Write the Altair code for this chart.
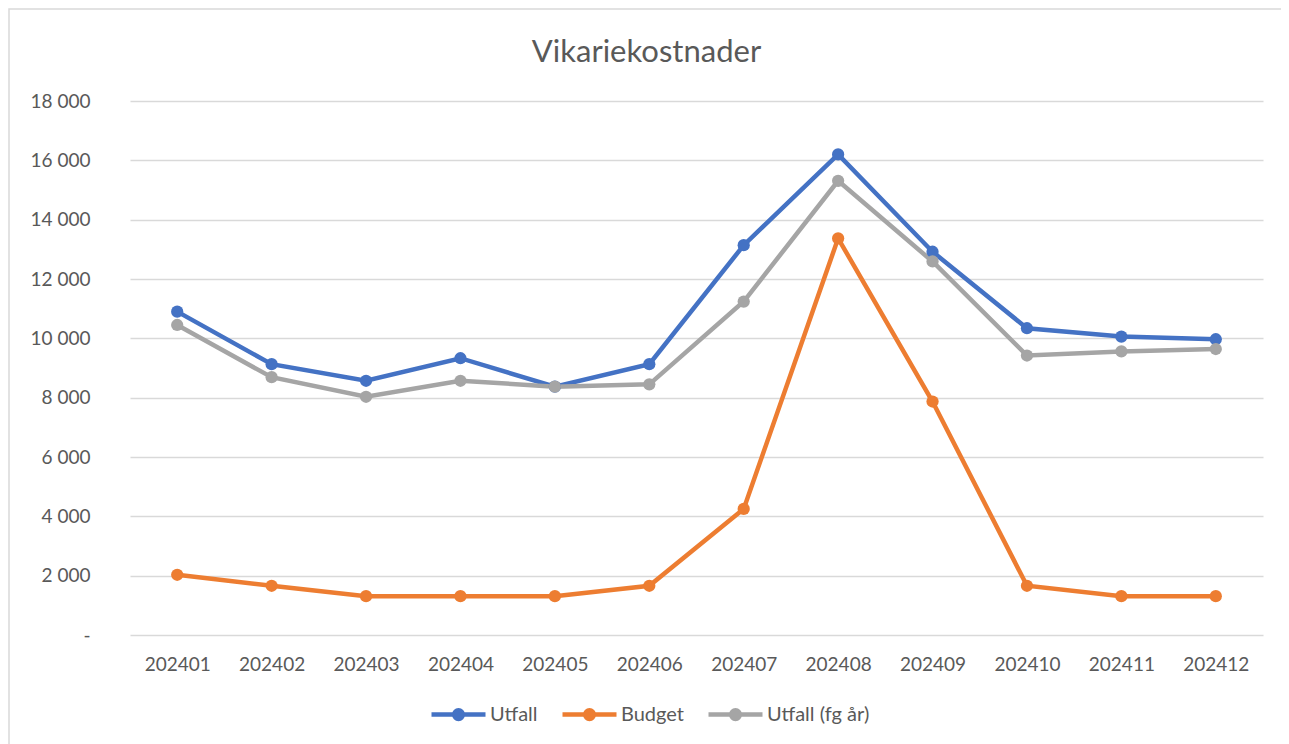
import altair as alt
import pandas as pd

months = ["202401", "202402", "202403", "202404", "202405", "202406",
          "202407", "202408", "202409", "202410", "202411", "202412"]
utfall = [10900, 9130, 8570, 9330, 8370, 9130, 13140, 16200, 12920, 10340, 10060, 9970]
budget = [2030, 1660, 1310, 1310, 1310, 1660, 4250, 13370, 7870, 1660, 1310, 1310]
utfall_fg = [10450, 8690, 8030, 8570, 8370, 8450, 11240, 15310, 12590, 9420, 9560, 9640]

series_names = ["Utfall", "Budget", "Utfall (fg år)"]
series_colors = ["#4472C4", "#ED7D31", "#A5A5A5"]
y_ticks = list(range(0, 18001, 2000))

rows = []
for name, vals in zip(series_names, [utfall, budget, utfall_fg]):
    for i, (m, v) in enumerate(zip(months, vals)):
        rows.append({"Månad": m, "Serie": name, "Värde": v, "order": series_names.index(name)})
df = pd.DataFrame(rows)

FONT = "Lato"
TXT = "#595959"
GRID = "#D9D9D9"

legend_path = ("M-1,0H1"
               "M-0.16,0A0.16,0.16,0,1,0,0.16,0A0.16,0.16,0,1,0,-0.16,0Z"
               "M-0.06,0A0.06,0.06,0,1,0,0.06,0A0.06,0.06,0,1,0,-0.06,0Z")

x = alt.X("Månad:O", title=None, sort=months,
          scale=alt.Scale(type="point", padding=0.5),
          axis=alt.Axis(labelAngle=0, labelFontSize=19, labelColor=TXT, labelFont=FONT,
                        ticks=False, domain=False, grid=False, labelPadding=20))
y = alt.Y("Värde:Q", title=None,
          scale=alt.Scale(domain=[0, 18000], nice=False),
          axis=alt.Axis(values=y_ticks, labelFontSize=19, labelColor=TXT, labelFont=FONT,
                        ticks=False, domain=False, gridColor=GRID, gridWidth=1.5,
                        labelPadding=40,
                        labelExpr="datum.value == 0 ? '-\u00a0\u00a0' : floor(datum.value/1000) + ' 000'"))
color = alt.Color("Serie:N", sort=series_names,
                  scale=alt.Scale(domain=series_names, range=series_colors),
                  legend=alt.Legend(title=None, orient="none", direction="horizontal",
                                    legendX=299, legendY=584,
                                    symbolType=legend_path, symbolSize=2916,
                                    symbolStrokeWidth=4.5, labelFontSize=20,
                                    labelColor=TXT, labelFont=FONT, labelOffset=2,
                                    columnPadding=15, symbolOpacity=1))

lines = alt.Chart(df).mark_line(strokeWidth=4.5).encode(x=x, y=y, color=color, order="order:Q")
points = alt.Chart(df).mark_circle(size=150, opacity=1).encode(
    x=x, y=y,
    color=alt.Color("Serie:N", scale=alt.Scale(domain=series_names, range=series_colors), legend=None))

border = alt.Chart(pd.DataFrame({"a": [0]})).mark_rect(fill=None, stroke=GRID, strokeWidth=1.5).encode(
    x=alt.value(-121), x2=alt.value(1154), y=alt.value(-92), y2=alt.value(680))

chart = alt.layer(border, lines, points).properties(
    width=1133, height=534,
    title=alt.TitleParams("Vikariekostnader", fontSize=31, font=FONT, color=TXT,
                          fontWeight="normal", anchor="middle", frame="bounds", offset=-61),
    autosize=alt.AutoSizeParams(type="none"),
    padding={"left": 122, "top": 93, "right": 18, "bottom": 109},
).configure(background="white").configure_view(stroke=None)

chart.save("out.html", embed_options={"renderer": "svg", "actions": False})
